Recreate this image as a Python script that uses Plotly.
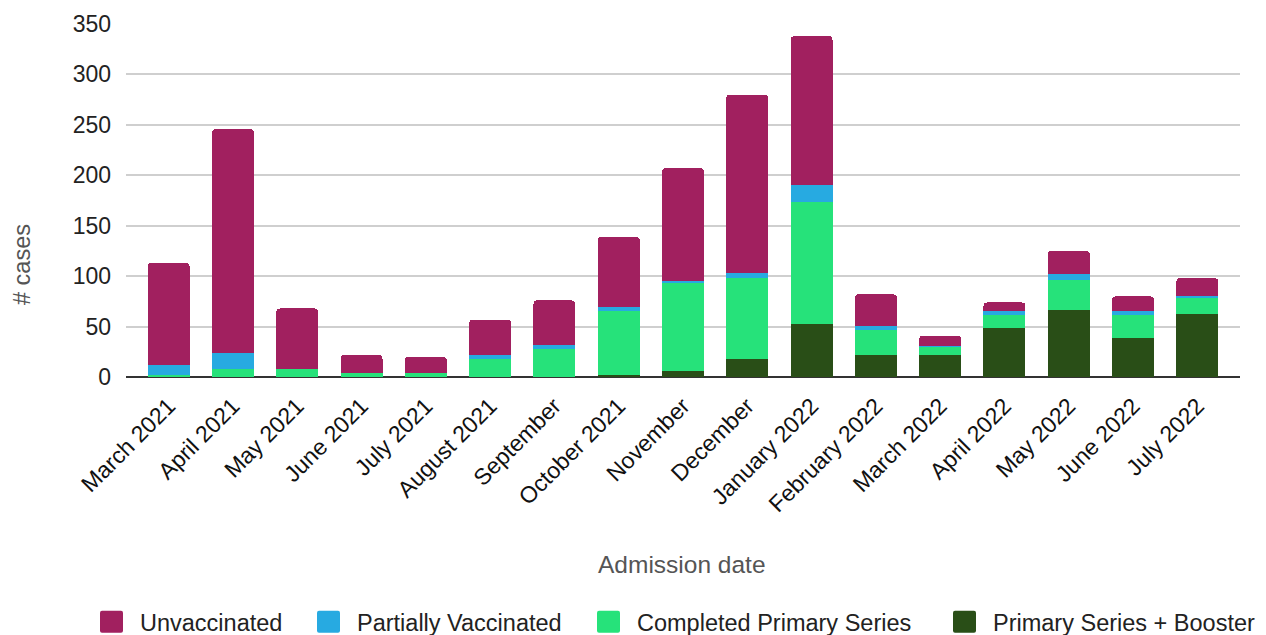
import plotly.graph_objects as go

months = ["March 2021", "April 2021", "May 2021", "June 2021", "July 2021",
          "August 2021", "September", "October 2021", "November", "December",
          "January 2022", "February 2022", "March 2022", "April 2022",
          "May 2022", "June 2022", "July 2022"]

booster = [0, 0, 0, 0, 0, 0, 0, 2, 6, 18, 53, 22, 22, 49, 66, 39, 62]
completed = [2, 8, 8, 4, 4, 18, 28, 63, 87, 80, 121, 25, 8, 12, 30, 22, 16]
partial = [10, 16, 0, 0, 0, 4, 4, 4, 2, 5, 16, 4, 1, 4, 6, 4, 2]
unvaccinated = [101, 222, 60, 18, 16, 35, 44, 70, 112, 177, 148, 31, 10, 9, 23, 15, 18]

series = [
    ("Unvaccinated", unvaccinated, "rgb(161,32,95)"),
    ("Partially Vaccinated", partial, "rgb(39,170,225)"),
    ("Completed Primary Series", completed, "rgb(38,226,122)"),
    ("Primary Series + Booster", booster, "rgb(41,78,23)"),
]
legend_ids = ["legend", "legend2", "legend3", "legend4"]
legend_left_px = [83, 300, 580, 936]

W, H = 1266, 635
fig = go.Figure()
# stack from bottom (booster) to top (unvaccinated)
for (name, vals, col), lid in reversed(list(zip(series, legend_ids))):
    fig.add_trace(go.Bar(x=months, y=vals, name=name, marker_color=col,
                         marker_line_width=0, legend=lid))

FONT = "Liberation Sans, Arial, sans-serif"
pad = 0.163
legend_common = dict(orientation="h", xanchor="left", xref="container",
                     y=(H - 622) / H, yanchor="middle", yref="container",
                     font=dict(size=23.5, color="#222"), itemwidth=47,
                     bgcolor="rgba(0,0,0,0)")
legends = {lid: dict(legend_common, x=px / W) for lid, px in zip(legend_ids, legend_left_px)}

fig.update_layout(
    barmode="stack",
    bargap=0.347,
    barcornerradius=4,
    width=W, height=H,
    margin=dict(l=126, r=26, t=24, b=258),
    plot_bgcolor="white", paper_bgcolor="white",
    font=dict(family=FONT, size=19, color="#222"),
    showlegend=True,
    xaxis=dict(tickangle=-45, showgrid=False, tickfont=dict(size=23, color="#111"),
               showline=False, ticks="", range=[-0.5 - pad, len(months) - 0.5 + pad],
               automargin=False, ticklabelstandoff=10),
    yaxis=dict(range=[0, 350], dtick=50, showgrid=True, gridcolor="#cfcfcf", gridwidth=1.5,
               zeroline=True, zerolinecolor="#333", zerolinewidth=2, automargin=False,
               tickfont=dict(size=23, color="#222"), ticklabelstandoff=14),
    annotations=[
        dict(text="Admission date", xref="paper", yref="paper", x=(681.5 - 126) / 1114,
             y=(377 - 564) / 353, showarrow=False, font=dict(size=24.5, color="#555"),
             xanchor="center", yanchor="middle"),
        dict(text="# cases", xref="paper", yref="paper", x=(22 - 126) / 1114,
             y=(377 - 265) / 353, textangle=-90, showarrow=False,
             font=dict(size=23.5, color="#555"), xanchor="center", yanchor="middle"),
    ],
    **legends,
)

post = """
document.body.style.margin='0px';
var sq = 'M-9.5,-11H9.5A2,2 0 0 1 11.5,-9V9A2,2 0 0 1 9.5,11H-9.5A2,2 0 0 1 -11.5,9V-9A2,2 0 0 1 -9.5,-11Z';
document.querySelectorAll('g.legendpoints path.legendbar, g.legendpoints path.legendundefined').forEach(function(p){ p.setAttribute('d', sq); });
"""
fig.write_html("out.html", post_script=post, config={"displayModeBar": False})
